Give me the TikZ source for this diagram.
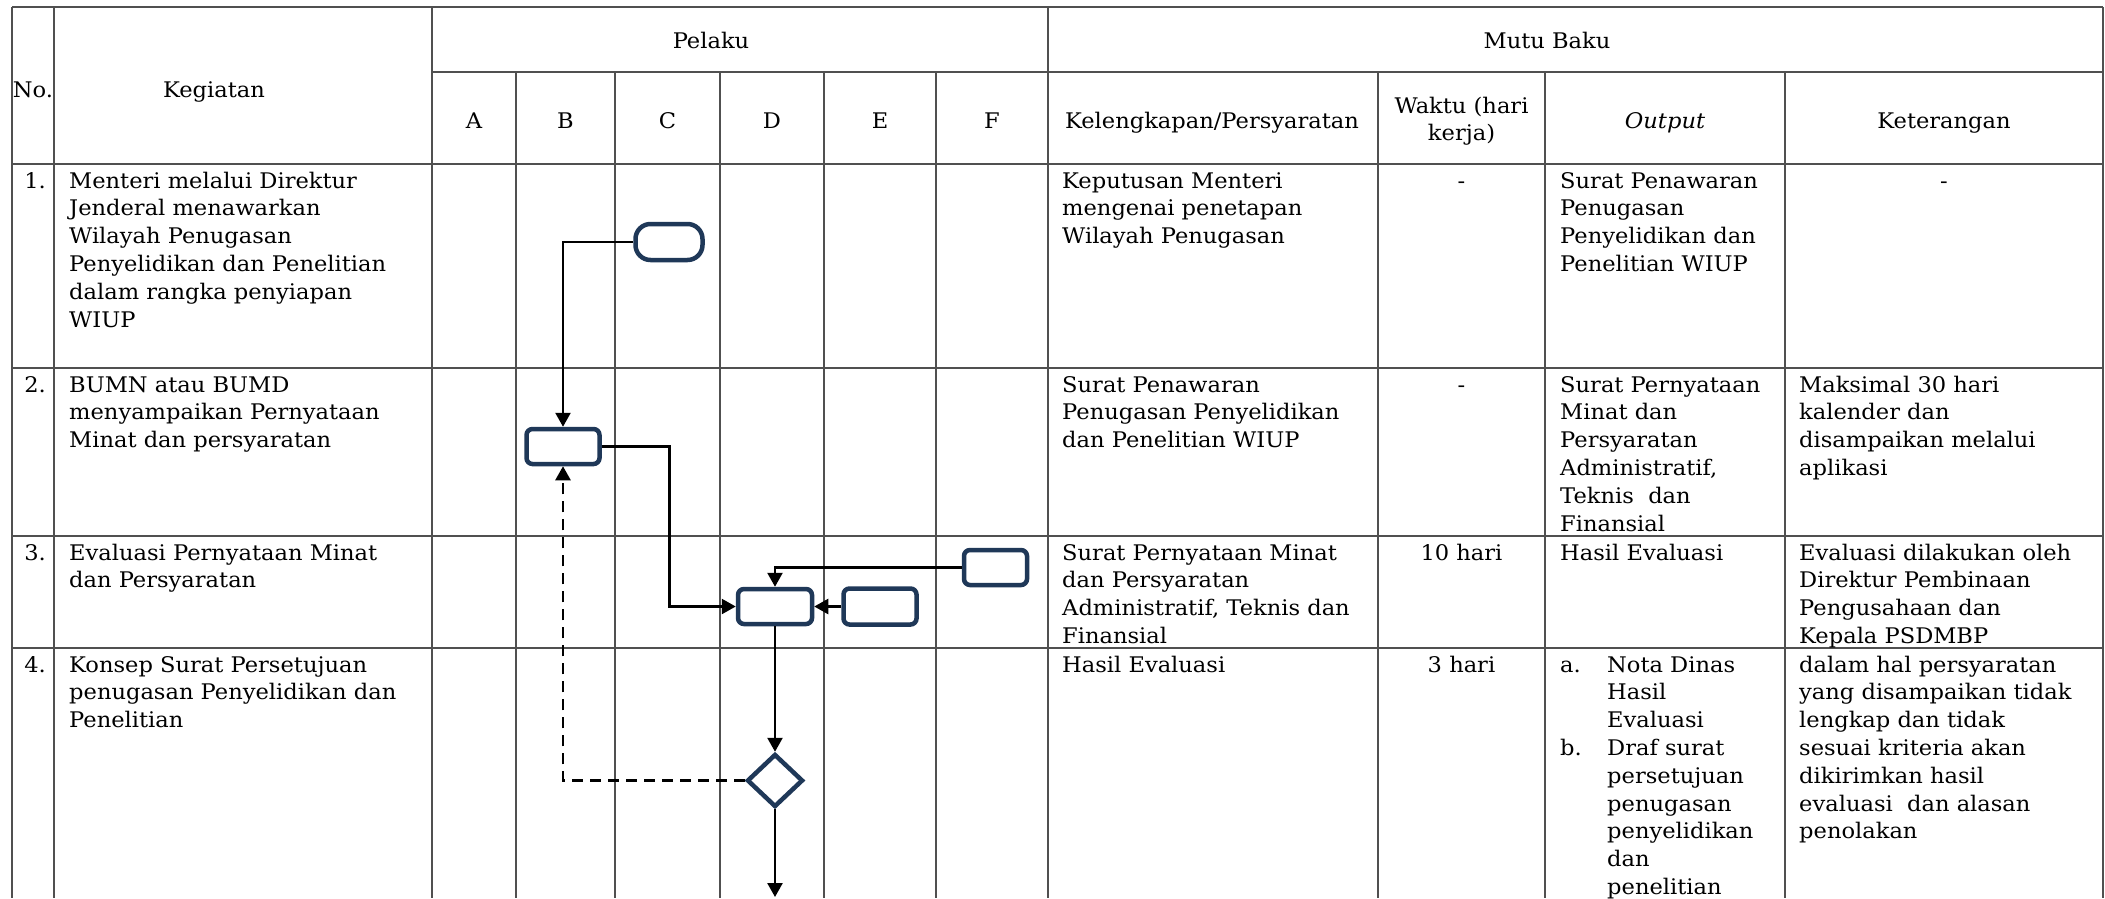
\documentclass[tikz,border=0pt]{standalone}
\usepackage{fontspec}
\setmainfont{DejaVu Serif}[FakeStretch=1.05]
\usetikzlibrary{arrows.meta,shapes.geometric}
\definecolor{navy}{RGB}{31,56,88}
\definecolor{gridc}{RGB}{80,80,80}
\newcommand\cellfont{\fontsize{21.5pt}{27.8pt}\selectfont}
\begin{document}
\begin{tikzpicture}[x=1pt,y=-1pt,
  gridl/.style={draw=gridc,line width=2pt},
  cell/.style={inner sep=0pt,anchor=north west,align=left,font=\cellfont},
  hd/.style={inner sep=0pt,anchor=base,font=\cellfont},
  box/.style={draw=navy,line width=4.5pt,rounded corners=6pt,inner sep=0pt,fill=white},
  term/.style={draw=navy,line width=4.5pt,rounded corners=15pt,inner sep=0pt,fill=white},
  dec/.style={draw=navy,line width=4.5pt,diamond,inner sep=0pt,fill=white},
  flow/.style={line width=2.5pt,-{Triangle[length=14pt,width=15pt]}},
  back/.style={flow,dash pattern=on 11pt off 7pt}]
\useasboundingbox (0,0) rectangle (2105,898);
\fill[white] (0,0) rectangle (2105,898);
% ---------- grid ----------
\draw[gridl] (12,7) -- (2103,7);
\draw[gridl] (432,72) -- (2103,72);
\foreach \yy in {164,368,536,648} \draw[gridl] (12,\yy) -- (2103,\yy);
\foreach \xx in {12,54,432,1047.5,2103} \draw[gridl] (\xx,7) -- (\xx,898);
\foreach \xx in {516,615,720,824,936,1378,1545,1785} \draw[gridl] (\xx,72) -- (\xx,898);
% ---------- header ----------
\node[hd] (hno) at (33,97) {No.};
\node[hd] (hkeg) at (214,97) {Kegiatan};
\node[hd] (hpel) at (711,48) {Pelaku};
\node[hd] (hmutu) at (1547,48) {Mutu Baku};
\node[hd] (ha) at (474,128) {A};
\node[hd] (hb) at (565.5,128) {B};
\node[hd] (hc) at (667.5,128) {C};
\node[hd] (hd) at (772,128) {D};
\node[hd] (he) at (880,128) {E};
\node[hd] (hf) at (992,128) {F};
\node[hd] (hkel) at (1212,128) {Kelengkapan/Persyaratan};
\node[cell,anchor=north,align=center] (hwak) at (1461.5,93.5) {\strut Waktu (hari\\kerja)};
\node[hd] (hout) at (1665,128) {\itshape Output};
\node[hd] (hket) at (1944,128) {Keterangan};
% ---------- row 1 ----------
\node[hd,anchor=base east] (n1) at (46,188) {1.};
\node[cell] (k1) at (69,168.5) {\strut Menteri melalui Direktur\\Jenderal menawarkan\\Wilayah Penugasan\\Penyelidikan dan Penelitian\\dalam rangka penyiapan\\WIUP};
\node[cell] (l1) at (1062,168.5) {\strut Keputusan Menteri\\mengenai penetapan\\Wilayah Penugasan};
\node[hd] (w1) at (1461.5,188) {-};
\node[cell] (o1) at (1560,168.5) {\strut Surat Penawaran\\Penugasan\\Penyelidikan dan\\Penelitian WIUP};
\node[hd] (t1) at (1944,188) {-};
% ---------- row 2 ----------
\node[hd,anchor=base east] (n2) at (46,392) {2.};
\node[cell] (k2) at (69,372.5) {\strut BUMN atau BUMD\\menyampaikan Pernyataan\\Minat dan persyaratan};
\node[cell] (l2) at (1062,372.5) {\strut Surat Penawaran\\Penugasan Penyelidikan\\dan Penelitian WIUP};
\node[hd] (w2) at (1461.5,392) {-};
\node[cell] (o2) at (1560,372.5) {\strut Surat Pernyataan\\Minat dan\\Persyaratan\\Administratif,\\Teknis~ dan\\Finansial};
\node[cell] (t2) at (1799,372.5) {\strut Maksimal 30 hari\\kalender dan\\disampaikan melalui\\aplikasi};
% ---------- row 3 ----------
\node[hd,anchor=base east] (n3) at (46,560) {3.};
\node[cell] (k3) at (69,540.5) {\strut Evaluasi Pernyataan Minat\\dan Persyaratan};
\node[cell] (l3) at (1062,540.5) {\strut Surat Pernyataan Minat\\dan Persyaratan\\Administratif, Teknis dan\\Finansial};
\node[hd] (w3) at (1461.5,560) {10 hari};
\node[cell] (o3) at (1560,540.5) {\strut Hasil Evaluasi};
\node[cell] (t3) at (1799,540.5) {\strut Evaluasi dilakukan oleh\\Direktur Pembinaan\\Pengusahaan dan\\Kepala PSDMBP};
% ---------- row 4 ----------
\node[hd,anchor=base east] (n4) at (46,672) {4.};
\node[cell] (k4) at (69,652.5) {\strut Konsep Surat Persetujuan\\penugasan Penyelidikan dan\\Penelitian};
\node[cell] (l4) at (1062,652.5) {\strut Hasil Evaluasi};
\node[hd] (w4) at (1461.5,672) {3 hari};
\node[cell] (oa) at (1560,652.5) {\strut a.};
\node[cell] (oat) at (1607,652.5) {\strut Nota Dinas\\Hasil\\Evaluasi};
\node[cell] (ob) at (1560,735.9) {\strut b.};
\node[cell] (obt) at (1607,735.9) {\strut Draf surat\\persetujuan\\penugasan\\penyelidikan\\dan\\penelitian};
\node[cell] (t4) at (1799,652.5) {\strut dalam hal persyaratan\\yang disampaikan tidak\\lengkap dan tidak\\sesuai kriteria akan\\dikirimkan hasil\\evaluasi~ dan alasan\\penolakan};
% ---------- flow shapes ----------
\node[term,minimum width=67pt,minimum height=36pt] (T) at (669,242) {};
\node[box,minimum width=73pt,minimum height=35pt] (B2) at (563,446.5) {};
\node[box,minimum width=74pt,minimum height=35pt] (D3) at (775,606.5) {};
\node[box,minimum width=73pt,minimum height=36pt] (E3) at (880,606.5) {};
\node[box,minimum width=63pt,minimum height=35pt] (F3) at (995.5,567.5) {};
\node[dec,minimum width=56pt,minimum height=53pt] (Dm) at (775,780.5) {};
\coordinate (c1) at (669.5,446.5);
\coordinate (cend) at (775,897);
% ---------- connectors ----------
\draw[flow] (T.west) -| (B2.north);
\draw[flow] (B2.east) -- (c1) |- (D3.west);
\draw[flow] (E3.west) -- (D3.east);
\draw[flow] (F3.west) -| (D3.north);
\draw[flow] (D3.south) -- (Dm.north);
\draw[flow] (Dm.south) -- (cend);
\draw[back] (Dm.west) -| (B2.south);
\end{tikzpicture}
\end{document}
